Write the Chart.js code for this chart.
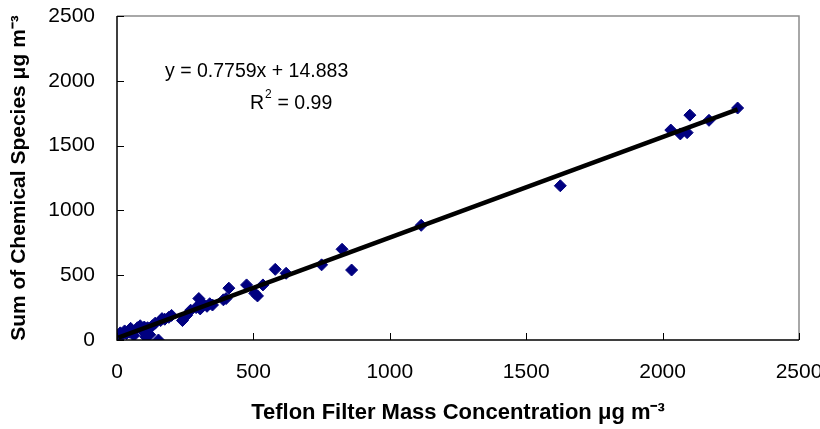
<!DOCTYPE html>
<html lang="en">
<head>
    <meta charset="UTF-8" />
    <title>Sum of Chemical Species vs Teflon Filter Mass</title>
    <script src="https://cdn.jsdelivr.net/npm/chart.js"></script>
    <style>
        html, body {
            margin: 0;
            padding: 0;
            background: #fff;
        }
        #wrap {
            width: 820px;
            height: 429px;
        }
    </style>
</head>
<body>
    <div id="wrap"><canvas id="grafico" width="820" height="429"></canvas></div>

    <script>
        // datos
        const teflonMass = [5, 12, 20, 28, 35, 45, 50, 55, 62, 75, 85, 95, 100, 105, 112, 120, 130, 140, 152, 160, 165, 175, 190, 200, 240, 255, 270, 290, 300, 305, 310, 330, 340, 350, 390, 400, 410, 475, 505, 515, 535, 580, 620, 750, 825, 860, 1115, 1625, 2030, 2065, 2090, 2100, 2170, 2275];
        const chemSum = [30, 55, 40, 70, 50, 60, 90, 75, 35, 95, 110, 70, 100, 25, 95, 40, 110, 130, 0, 150, 165, 160, 175, 190, 150, 190, 230, 250, 320, 240, 290, 260, 280, 270, 310, 320, 400, 425, 360, 340, 425, 545, 515, 580, 700, 540, 885, 1190, 1620, 1590, 1600, 1735, 1695, 1790];
        const trendX = [5, 2275];
        const trendY = [19, 1780];
        const xTicks = [0, 500, 1000, 1500, 2000, 2500];
        const yTicks = [0, 500, 1000, 1500, 2000, 2500];
        const equationText = 'y = 0.7759x + 14.883';
        const r2Text = '0.99';

        const puntos = teflonMass.map((x, i) => ({ x: x, y: chemSum[i] }));
        const linea = trendX.map((x, i) => ({ x: x, y: trendY[i] }));

        const FONT = "'Liberation Sans', Arial, sans-serif";

        // marcas de los ejes hacia adentro, borde gris y la ecuacion
        const marcoPlugin = {
            id: 'marco',
            afterDatasetsDraw(chart) {
                const ctx = chart.ctx;
                const a = chart.chartArea;
                const xs = chart.scales.x;
                const ys = chart.scales.y;
                ctx.save();
                ctx.strokeStyle = '#8c8c8c';
                ctx.lineWidth = 1.5;
                ctx.beginPath();
                ctx.moveTo(a.left, a.top);
                ctx.lineTo(a.right, a.top);
                ctx.lineTo(a.right, a.bottom);
                ctx.stroke();

                ctx.strokeStyle = '#000';
                ctx.lineWidth = 1;
                ctx.beginPath();
                xTicks.forEach(v => {
                    const px = Math.round(xs.getPixelForValue(v)) + 0.5;
                    ctx.moveTo(px, a.bottom);
                    ctx.lineTo(px, a.bottom - 7);
                });
                yTicks.forEach(v => {
                    const py = Math.round(ys.getPixelForValue(v)) + 0.5;
                    ctx.moveTo(a.left, py);
                    ctx.lineTo(a.left + 7, py);
                });
                ctx.stroke();

                ctx.lineWidth = 1.5;
                ctx.beginPath();
                ctx.moveTo(a.left, a.top);
                ctx.lineTo(a.left, a.bottom);
                ctx.lineTo(a.right, a.bottom);
                ctx.stroke();

                ctx.fillStyle = '#000';
                ctx.textBaseline = 'middle';
                ctx.textAlign = 'left';
                ctx.font = '19.5px ' + FONT;
                ctx.fillText(equationText, 165, 72);
                ctx.fillText('R', 250, 104);
                const wR = ctx.measureText('R').width;
                ctx.font = '12px ' + FONT;
                ctx.fillText('2', 250 + wR + 1, 95);
                ctx.font = '19.5px ' + FONT;
                ctx.fillText(' = ' + r2Text, 250 + wR + 8, 104);
                ctx.restore();
            }
        };

        new Chart(document.getElementById('grafico'), {
            type: 'scatter',
            data: {
                datasets: [
                    {
                        type: 'line',
                        label: 'Tendencia',
                        data: linea,
                        borderColor: '#000',
                        borderWidth: 4.5,
                        pointRadius: 0,
                        fill: false,
                        order: 0
                    },
                    {
                        label: 'Muestras',
                        data: puntos,
                        pointStyle: 'rectRot',
                        pointRadius: 6,
                        pointHoverRadius: 6,
                        backgroundColor: '#000080',
                        borderColor: '#000080',
                        borderWidth: 1,
                        order: 1
                    }
                ]
            },
            options: {
                responsive: false,
                animation: false,
                events: [],
                layout: { padding: { top: 16, right: 21, left: 0, bottom: 0 } },
                plugins: {
                    legend: { display: false },
                    tooltip: { enabled: false }
                },
                scales: {
                    x: {
                        type: 'linear',
                        min: 0,
                        max: 2500,
                        afterFit: s => { s.height = 89; s.paddingLeft = 0; s.paddingRight = 0; },
                        afterBuildTicks: s => { s.ticks = xTicks.map(v => ({ value: v })); },
                        grid: { display: false, drawTicks: false },
                        border: { display: false },
                        ticks: {
                            padding: 20,
                            color: '#000',
                            maxRotation: 0,
                            font: { family: FONT, size: 21 },
                            callback: v => String(v)
                        },
                        title: {
                            display: true,
                            text: 'Teflon Filter Mass Concentration μg m⁻³',
                            color: '#000',
                            font: { family: FONT, size: 22, weight: 'bold' },
                            padding: { top: 0, bottom: 3 }
                        }
                    },
                    y: {
                        type: 'linear',
                        min: 0,
                        max: 2500,
                        afterFit: s => { s.width = 117; s.paddingTop = 0; s.paddingBottom = 0; },
                        afterBuildTicks: s => { s.ticks = yTicks.map(v => ({ value: v })); },
                        grid: { display: false, drawTicks: false },
                        border: { display: false },
                        ticks: {
                            padding: 22,
                            color: '#000',
                            font: { family: FONT, size: 21 },
                            callback: v => String(v)
                        },
                        title: {
                            display: true,
                            text: 'Sum of Chemical Species μg m⁻³',
                            color: '#000',
                            font: { family: FONT, size: 21, weight: 'bold' },
                            padding: { top: 7, bottom: 0 }
                        }
                    }
                }
            },
            plugins: [marcoPlugin]
        });
    </script>
</body>
</html>
